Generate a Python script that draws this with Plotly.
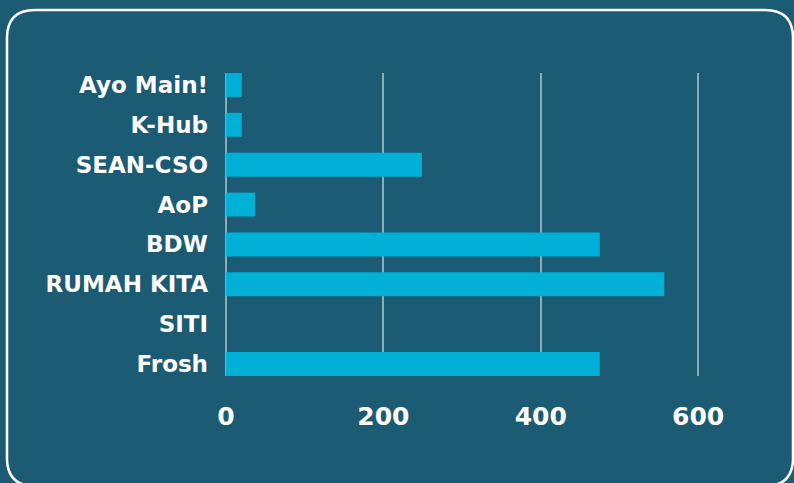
import plotly.graph_objects as go

categories = ["Ayo Main!", "K-Hub", "SEAN-CSO", "AoP", "BDW", "RUMAH KITA", "SITI", "Frosh"]
values = [20, 20, 249, 37, 475, 557, 0, 475]
x_ticks = [0, 200, 400, 600]

BG = "#1b5b73"
BAR = "#00b0d6"
GRID = "#8eabb8"
FONT = "DejaVu Sans"

W, H = 794, 483
ML, MR, MT, MB = 226, 25, 73, 107
PW = W - ML - MR
PH = H - MT - MB


def xp(px):
    return (px - ML) / PW


def yp(py):
    return (H - MB - py) / PH


fig = go.Figure(
    go.Bar(
        x=values,
        y=categories,
        orientation="h",
        width=0.6,
        marker=dict(color=BAR, line=dict(width=0)),
        hoverinfo="x+y",
    )
)

# rounded white frame
x0, x1, y0, y1, r = 7, 793, 10, 486, 28
path = (
    f"M {xp(x0 + r)},{yp(y0)} L {xp(x1 - r)},{yp(y0)} "
    f"Q {xp(x1)},{yp(y0)} {xp(x1)},{yp(y0 + r)} "
    f"L {xp(x1)},{yp(y1 - r)} Q {xp(x1)},{yp(y1)} {xp(x1 - r)},{yp(y1)} "
    f"L {xp(x0 + r)},{yp(y1)} Q {xp(x0)},{yp(y1)} {xp(x0)},{yp(y1 - r)} "
    f"L {xp(x0)},{yp(y0 + r)} Q {xp(x0)},{yp(y0)} {xp(x0 + r)},{yp(y0)} Z"
)

fig.update_layout(
    width=W,
    height=H,
    margin=dict(l=ML, r=MR, t=MT, b=MB, pad=0),
    paper_bgcolor=BG,
    plot_bgcolor=BG,
    showlegend=False,
    font=dict(family=FONT, color="white"),
    shapes=[
        dict(
            type="path",
            xref="paper",
            yref="paper",
            path=path,
            line=dict(color="white", width=2.5),
            fillcolor="rgba(0,0,0,0)",
            layer="above",
        )
    ],
    xaxis=dict(
        range=[0, 690],
        tickvals=x_ticks,
        showgrid=True,
        gridcolor=GRID,
        gridwidth=2,
        zeroline=True,
        zerolinecolor=GRID,
        zerolinewidth=2,
        showline=False,
        ticks="",
        ticklabelstandoff=23,
        tickfont=dict(family=FONT, size=25, color="white", weight="bold"),
        fixedrange=True,
    ),
    yaxis=dict(
        type="category",
        categoryorder="array",
        categoryarray=categories,
        range=[7.3, -0.3],
        showgrid=False,
        zeroline=False,
        showline=False,
        ticks="",
        ticklabelstandoff=17,
        tickfont=dict(family=FONT, size=23, color="white", weight="bold"),
        fixedrange=True,
    ),
)

fig.write_html(
    "out.html",
    config={"displayModeBar": False},
    post_script="document.body.style.margin='0';document.body.style.background='" + BG + "';",
)
